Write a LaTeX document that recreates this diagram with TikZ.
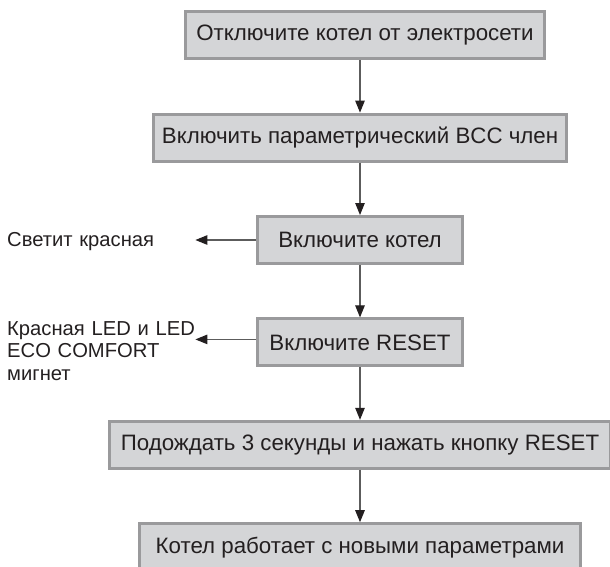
\documentclass[tikz,border=0pt]{standalone}
\usepackage{fontspec}
\setmainfont{Liberation Sans}
\usetikzlibrary{matrix,arrows.meta}

\definecolor{boxfill}{HTML}{D4D5D7}
\definecolor{boxline}{HTML}{9A9A9C}
\definecolor{inkdark}{HTML}{231F20}
\definecolor{arrowline}{HTML}{5C5C5C}

\tikzset{
    stage/.style={draw=boxline, fill=boxfill, line width=3pt, minimum height=47pt,
                  inner sep=0pt, text=inkdark, font=\fontsize{22.3}{26}\selectfont},
    note/.style={text width=188pt, inner sep=0pt, align=left, text=inkdark,
                 font=\fontsize{20.2}{22.7}\selectfont},
    flowarrow/.style={draw=arrowline, line width=1.1pt,
                      -{Triangle[length=12pt, width=9.5pt, color=inkdark]}}
}

\begin{document}
\begin{tikzpicture}
    \useasboundingbox (0pt,0pt) rectangle (610pt,-566pt);
    \matrix (flow) at (360pt,-10pt) [matrix of nodes, anchor=north, inner sep=0pt,
            nodes={stage, anchor=center}, row sep=52.4pt] {
      |[minimum width=359pt, xshift=5pt]| Отключите котел от электросети \\
      |[minimum width=412pt]| Включить параметрический BCC член \\
      |[minimum width=205pt]| Включите котел \\
      |[minimum width=205pt]| Включите RESET \\
      |[minimum width=500pt]| Подождать 3 секунды и нажать кнопку RESET \\
      |[minimum width=441pt]| Котел работает с новыми параметрами \\
    };
    \node[note, anchor=west] (glow) at (7pt,-242pt) {Светит красная};
    \node[note, anchor=north west] (blink) at (7pt,-321pt)
        {Красная LED и LED\\ECO COMFORT\\мигнет};

    \draw[flowarrow] (flow-1-1.south -| flow-3-1) -- (flow-2-1.north -| flow-3-1);
    \draw[flowarrow] (flow-2-1.south -| flow-3-1) -- (flow-3-1.north);
    \draw[flowarrow] (flow-3-1.south) -- (flow-4-1.north);
    \draw[flowarrow] (flow-4-1.south) -- (flow-5-1.north -| flow-3-1);
    \draw[flowarrow] (flow-5-1.south -| flow-3-1) -- (flow-6-1.north -| flow-3-1);
    \draw[flowarrow] (flow-3-1.west) -- (flow-3-1.west -| glow.east);
    \draw[flowarrow] ([yshift=3pt]flow-4-1.west) -- ([yshift=3pt]flow-4-1.west -| blink.east);
    \end{tikzpicture}
\end{document}
